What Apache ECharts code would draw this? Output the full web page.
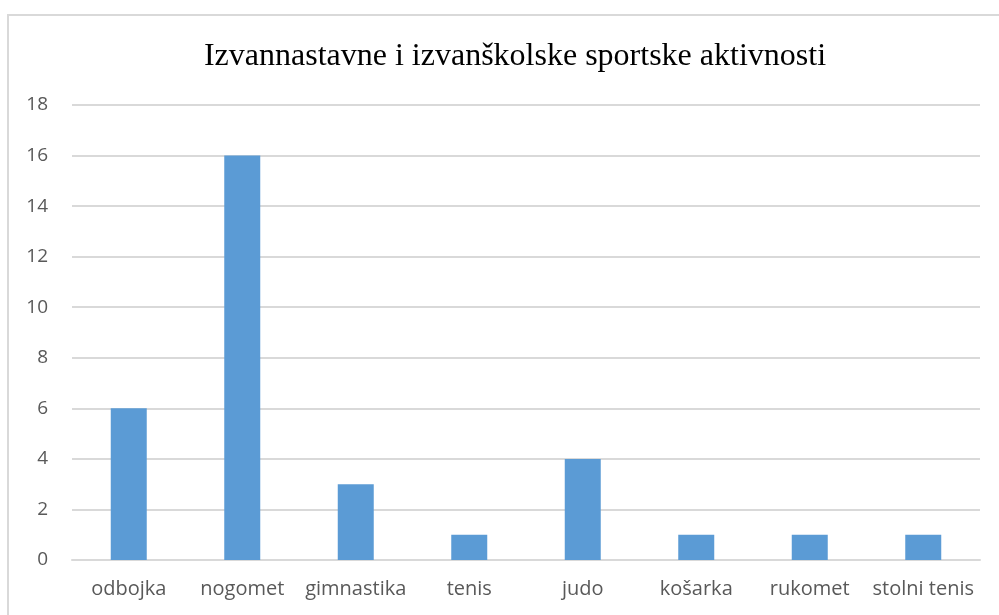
<!DOCTYPE html>
<html>
<head>
<meta charset="utf-8">
<script src="https://cdn.jsdelivr.net/npm/echarts@6/dist/echarts.min.js"></script>
<style>
  html, body { margin: 0; padding: 0; background: #fff; }
  #chart { width: 999px; height: 615px; }
</style>
</head>
<body>
<div id="chart"></div>
<script>
  // chart data
  var categories = ['odbojka', 'nogomet', 'gimnastika', 'tenis', 'judo', 'košarka', 'rukomet', 'stolni tenis']
  var values = [6, 16, 3, 1, 4, 1, 1, 1]
  var chartTitle = 'Izvannastavne i izvanškolske sportske aktivnosti'

  var axisColor = '#595959'
  var splitLineColor = '#d9d9d9'

  var chart = echarts.init(document.getElementById('chart'))
  chart.setOption({
    animation: false,
    title: {
      text: chartTitle,
      left: 510,
      textAlign: 'center',
      top: 36,
      textStyle: {
        fontFamily: 'Liberation Serif',
        fontWeight: 'normal',
        fontSize: 32,
        color: '#000'
      }
    },
    // outer chart frame
    graphic: [{
      type: 'rect',
      shape: { x: 8, y: 15, width: 1100, height: 700 },
      style: { fill: 'none', stroke: '#d9d9d9', lineWidth: 2 }
    }],
    grid: {
      left: 72,
      right: 19,
      top: 105,
      bottom: 55
    },
    xAxis: {
      type: 'category',
      data: categories,
      axisLine: { lineStyle: { color: splitLineColor, width: 2 } },
      axisTick: { show: false },
      axisLabel: {
        interval: 0,
        hideOverlap: false,
        color: axisColor,
        fontFamily: 'Open Sans',
        fontSize: 20,
        margin: 19
      }
    },
    yAxis: {
      type: 'value',
      min: 0,
      max: 18,
      interval: 2,
      axisLine: { show: false },
      axisTick: { show: false },
      axisLabel: {
        color: axisColor,
        fontFamily: 'Open Sans',
        fontSize: 19,
        margin: 24
      },
      splitLine: { lineStyle: { color: splitLineColor, width: 2 } }
    },
    series: [{
      type: 'bar',
      data: values,
      barWidth: 36,
      itemStyle: { color: '#5b9bd5' }
    }]
  })
</script>
</body>
</html>
